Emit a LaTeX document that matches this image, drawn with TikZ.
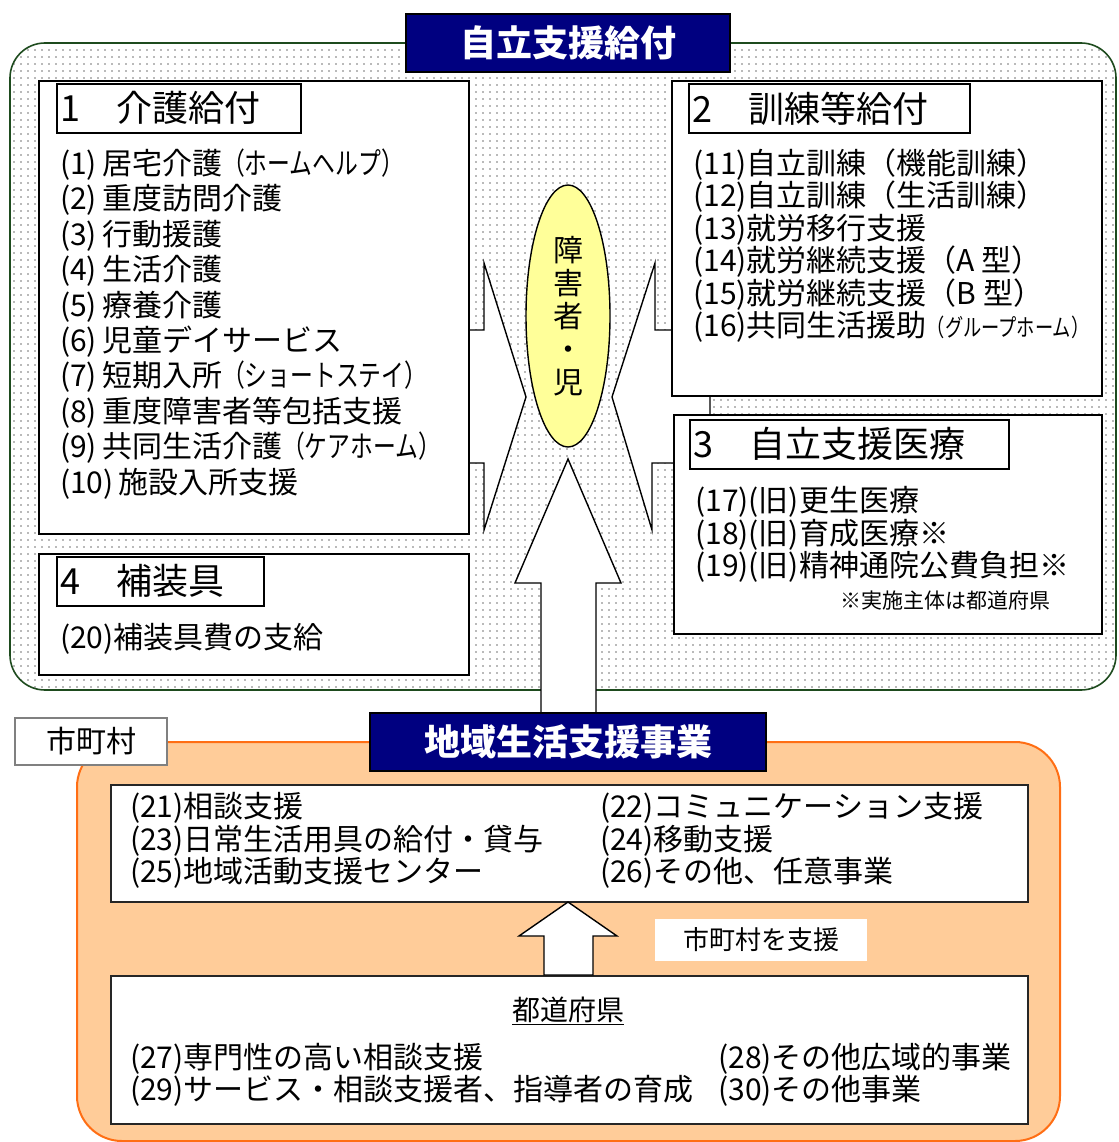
\documentclass[tikz,border=0pt]{standalone}
\usepackage{fontspec}
\setmainfont{Noto Sans CJK JP}
\newfontfamily\narrowjp[FakeStretch=0.76]{Noto Sans CJK JP}
\usepackage{tikz}
\usetikzlibrary{patterns, shapes.geometric}

\definecolor{titlenavy}{RGB}{0,0,128}
\definecolor{regiongreen}{RGB}{30,75,30}
\definecolor{dotgray}{RGB}{115,115,115}
\definecolor{townfill}{RGB}{255,204,153}
\definecolor{townline}{RGB}{255,110,20}
\definecolor{personfill}{RGB}{255,255,153}

\pgfdeclarepatternformonly{paperdots}{\pgfpoint{-1pt}{-1pt}}{\pgfpoint{1pt}{1pt}}{\pgfpoint{7pt}{7pt}}{\pgfpathcircle{\pgfpointorigin}{0.85pt}\pgfusepath{fill}}

\begin{document}
\begin{tikzpicture}[x=1pt,y=-1pt,
  title node/.style={draw=black,line width=1.2pt,fill=titlenavy,text=white,font=\fontsize{36}{36}\selectfont\bfseries,minimum height=58pt},
  main box/.style={draw=black,line width=1.6pt,fill=white,anchor=north west,inner sep=0pt},
  head node/.style={draw=black,line width=1.6pt,fill=white,anchor=north west,inner sep=4pt,minimum height=49pt,align=left,font=\fontsize{36}{36}\selectfont},
  item node/.style={anchor=base west,inner sep=0pt,font=\fontsize{30}{30}\selectfont},
  block arrow/.style={draw=black,line width=1.4pt,fill=white,line join=miter},
  person node/.style={ellipse,draw=black,line width=1.4pt,fill=personfill,minimum width=84pt,minimum height=262pt,inner sep=0pt,align=center,font=\fontsize{30}{33}\selectfont}]

  \useasboundingbox (0,0) rectangle (1118,1142);

  % benefits region
  \draw[regiongreen,line width=1.6pt,rounded corners=35pt,pattern=paperdots,pattern color=dotgray] (10,43) rectangle (1116,690);
  \node[title node,minimum width=324pt] (jiritsu) at (568,43) {自立支援給付};

  % block arrows towards the person
  \draw[block arrow] (440,330) -- (484,330) -- (484,263) -- (526,397) -- (484,530) -- (484,463) -- (440,463) -- cycle;
  \draw[block arrow] (710,330) -- (655,330) -- (655,263) -- (612,397) -- (652,530) -- (652,463) -- (710,463) -- cycle;
  \draw[block arrow] (568,459) -- (621,583) -- (596,583) -- (596,720) -- (541,720) -- (541,583) -- (515,583) -- cycle;

  % 1
  \node[main box,minimum width=430pt,minimum height=453pt] (kaigo) at (38,80) {};
  \node[head node,text width=236pt] (kaigoh) at (56,83) {1　介護給付};
  \foreach \t [count=\i from 0] in {{(1)\,居宅介護{\narrowjp（ホームヘルプ）}},{(2)\,重度訪問介護},{(3)\,行動援護},{(4)\,生活介護},{(5)\,療養介護},{(6)\,児童デイサービス},{(7)\,短期入所{\narrowjp（ショートステイ）}},{(8)\,重度障害者等包括支援},{(9)\,共同生活介護{\narrowjp（ケアホーム）}},{(10)\,施設入所支援}}
    \node[item node] (k\i) at (60,174.5+35.4*\i) {\t};

  % 2
  \node[main box,minimum width=430pt,minimum height=315pt] (kunren) at (671,80) {};
  \node[head node,text width=273pt] (kunrenh) at (688,83) {2　訓練等給付};
  \foreach \t [count=\i from 0] in {{(11)自立訓練（機能訓練）},{(12)自立訓練（生活訓練）},{(13)就労移行支援},{(14)就労継続支援（A 型）},{(15)就労継続支援（B 型）},{(16)共同生活援助{\fontsize{24}{24}\narrowjp（グループホーム）}}}
    \node[item node] (t\i) at (693,174.5+32.4*\i) {\t};

  % 3
  \node[main box,minimum width=428pt,minimum height=219pt] (iryo) at (673,414) {};
  \node[head node,text width=311pt] (iryoh) at (689,419) {3　自立支援医療};
  \foreach \t [count=\i from 0] in {{(17)(旧)更生医療},{(18)(旧)育成医療※},{(19)(旧)精神通院公費負担※}}
    \node[item node] (m\i) at (695,511.5+32.5*\i) {\t};
  \node[item node,font=\fontsize{21}{21}\selectfont] (note) at (840,608) {※実施主体は都道府県};

  % 4
  \node[main box,minimum width=430pt,minimum height=121pt] (hosougu) at (38,553) {};
  \node[head node,text width=199pt] (hosouguh) at (56,556) {4　補装具};
  \node[item node] (h0) at (60,648.5) {(20)補装具費の支給};

  \node[person node] (person) at (568,316) {障\\害\\者\\・\\児};

  % community region
  \draw[townline,line width=2pt,fill=townfill,rounded corners=45pt] (77,742) rectangle (1060,1141);
  \node[draw=black!50,line width=1.4pt,fill=white,minimum width=152pt,minimum height=47pt,font=\fontsize{30}{30}\selectfont] (shichoson) at (91,741.5) {市町村};
  \node[title node,minimum width=396pt] (chiiki) at (568,742) {地域生活支援事業};

  \node[main box,draw=black!85,minimum width=917pt,minimum height=117pt] (jigyo) at (110,784) {};
  \foreach \a/\b [count=\i from 0] in {{(21)相談支援}/{(22)コミュニケーション支援},{(23)日常生活用具の給付・貸与}/{(24)移動支援},{(25)地域活動支援センター}/{(26)その他、任意事業}}
  {
    \node[item node] (ja\i) at (130,817.5+32.5*\i) {\a};
    \node[item node] (jb\i) at (600,817.5+32.5*\i) {\b};
  }

  \node[main box,draw=black!85,minimum width=917pt,minimum height=148pt] (ken) at (110,975) {};
  \node[item node,anchor=base,font=\fontsize{28}{28}\selectfont] (kenh) at (568,1020.5) {\underline{都道府県}};
  \foreach \a/\b [count=\i from 0] in {{(27)専門性の高い相談支援}/{(28)その他広域的事業},{(29)サービス・相談支援者、指導者の育成}/{(30)その他事業}}
  {
    \node[item node] (ka\i) at (130,1068.5+32*\i) {\a};
    \node[item node] (kb\i) at (718,1068.5+32*\i) {\b};
  }

  \draw[block arrow] (568,902) -- (617,936) -- (593,936) -- (593,975) -- (544,975) -- (544,936) -- (519,936) -- cycle;
  \node[fill=white,minimum width=212pt,minimum height=42pt,font=\fontsize{26}{26}\selectfont] (shien) at (761,940) {市町村を支援};
\end{tikzpicture}
\end{document}
